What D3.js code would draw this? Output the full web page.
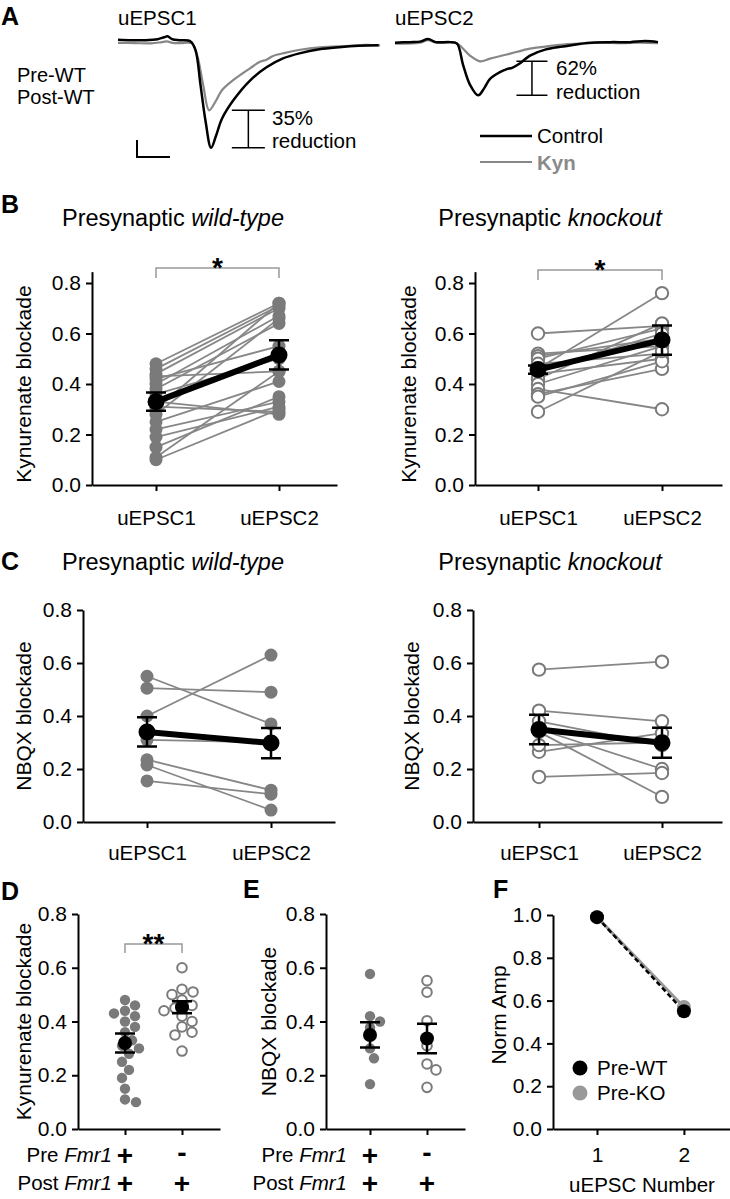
<!DOCTYPE html>
<html><head><meta charset="utf-8">
<script src="https://cdn.jsdelivr.net/npm/d3@7"></script>
<style>body{margin:0;background:#fff} svg{display:block}</style>
</head><body><svg id="fig" width="730" height="1199"></svg>
<script>
// ================= DATA =================
// Panel A: example traces (time in ms, current in pA)
const traceTimeU1Ctrl = [0, 4, 8, 12, 14, 15, 16.5, 19, 22, 23.5, 25, 26.5, 28.2, 29.7, 31.5, 35, 40, 45, 50, 55, 61, 67, 73, 79];
const traceAmpU1Ctrl  = [1.5, 1.2, 1.2, 1.8, 3.0, 3.5, 1.8, 1.2, 0.5, -4.7, -25, -46, -62, -55, -45, -34, -22.5, -14.7, -9.5, -6.5, -4.1, -2.9, -2.1, -1.8];
const traceTimeU1Kyn  = [0, 5, 10, 13, 14.8, 16.5, 19, 22.4, 24, 25.8, 27.6, 29.4, 31.5, 34.8, 40, 43, 45, 47, 50.6, 55.2, 61.2, 70.3, 75, 79.4];
const traceAmpU1Kyn   = [-0.3, -0.5, -0.6, 0, 0.5, -0.3, -0.5, -0.6, -7.6, -25, -40, -35.3, -28.2, -22.4, -15.3, -11.5, -10.2, -8.0, -6.2, -4.4, -3.0, -2.1, -1.5, -1.8];
const traceTimeU2Ctrl = [0, 4.5, 7.6, 10, 12.4, 16.7, 18.8, 20.6, 22.7, 25.2, 27, 28.8, 31.8, 33.9, 35.5, 37.9, 40.9, 45.5, 50.9, 58.2, 65.2, 71.2, 75.8, 79.7];
const traceAmpU2Ctrl  = [-0.2, 0.1, 0.4, 1.9, 0.1, 0.1, -0.8, -13.1, -24.9, -31.2, -27.1, -21.5, -17.5, -15.8, -15.0, -12.3, -7.8, -4.3, -2.5, -0.4, 0.1, 0.1, 0.7, 0.1];
const traceTimeU2Kyn  = [0, 7.6, 10, 12.4, 18.2, 19.7, 22.7, 25.8, 28.8, 33.9, 40.9, 45.5, 50.9, 56.1, 62.1, 68.2, 74.2, 79.7];
const traceAmpU2Kyn   = [-0.8, -0.2, 1.3, -0.2, -0.2, -2.0, -7.8, -11.2, -9.6, -7.2, -3.7, -2.5, -1.3, -0.8, -0.2, -0.5, -0.2, -0.5];
const traceTitles = ["uEPSC1", "uEPSC2"];
const reductionLabels = ["35%", "62%"];
const scaleBarMs = 10, scaleBarPA = 10;

// Panels B/C: paired values
const conditions = ["uEPSC1", "uEPSC2"];
const kynWTPre  = [0.48, 0.46, 0.44, 0.43, 0.42, 0.40, 0.38, 0.36, 0.33, 0.31, 0.30, 0.28, 0.25, 0.22, 0.19, 0.15, 0.11, 0.10];
const kynWTPost = [0.72, 0.71, 0.70, 0.45, 0.55, 0.67, 0.64, 0.50, 0.28, 0.29, 0.72, 0.66, 0.41, 0.33, 0.31, 0.35, 0.45, 0.30];
const kynWTMean = [0.33, 0.515], kynWTSem = [0.036, 0.058];
const kynKOPre  = [0.60, 0.52, 0.51, 0.50, 0.48, 0.46, 0.44, 0.42, 0.40, 0.38, 0.36, 0.35, 0.29, 0.45];
const kynKOPost = [0.63, 0.55, 0.58, 0.62, 0.52, 0.76, 0.50, 0.64, 0.55, 0.30, 0.46, 0.49, 0.53, 0.60];
const kynKOMean = [0.457, 0.574], kynKOSem = [0.016, 0.058];
const nbqxWTPre  = [0.40, 0.55, 0.505, 0.31, 0.235, 0.215, 0.155];
const nbqxWTPost = [0.63, 0.37, 0.49, 0.30, 0.12, 0.045, 0.105];
const nbqxWTMean = [0.34, 0.298], nbqxWTSem = [0.055, 0.057];
const nbqxKOPre  = [0.575, 0.42, 0.34, 0.35, 0.265, 0.29, 0.17, 0.38];
const nbqxKOPost = [0.605, 0.38, 0.095, 0.20, 0.335, 0.30, 0.185, 0.29];
const nbqxKOMean = [0.349, 0.299], nbqxKOSem = [0.056, 0.057];

// Panel D / E: group scatter
const preFmr1 = ["+", "-"], postFmr1 = ["+", "+"];
const dMean = [0.32, 0.453], dSem = [0.035, 0.022];
const eWT = [0.577, 0.42, 0.40, 0.378, 0.30, 0.263, 0.167];
const eKO = [0.552, 0.509, 0.403, 0.31, 0.242, 0.22, 0.155];
const eMean = [0.35, 0.337], eSem = [0.047, 0.055];

// Panel F
const fStim = [1, 2];
const fWT = [0.99, 0.55];
const fKO = [0.99, 0.57];
const fLegend = ["Pre-WT", "Pre-KO"];

const yTicks = [0, 0.2, 0.4, 0.6, 0.8];
const fYTicks = [0, 0.2, 0.4, 0.6, 0.8, 1.0];

// ================= DRAWING =================
const FONT = '"Liberation Sans", Arial, Helvetica, sans-serif';
const GRAY = "#7a7a7a", LGRAY = "#878787";
const svg = d3.select("#fig").attr("font-family", FONT);

function text(x, y, s, o = {}) {
  return svg.append("text").attr("x", x).attr("y", y).text(s)
    .attr("font-size", o.fs || 21).attr("font-weight", o.bold ? "bold" : null)
    .attr("text-anchor", o.anchor || "start").attr("fill", o.fill || "#000")
    .attr("font-style", o.italic ? "italic" : null);
}
function letter(x, y, s) { text(x, y, s, { fs: 25, bold: true }); }
function styleAxis(g, fs = 21) {
  g.attr("font-family", FONT);
  g.selectAll(".domain").attr("stroke", "#000").attr("stroke-width", 2);
  g.selectAll(".tick line").attr("stroke", "#000").attr("stroke-width", 2);
  g.selectAll(".tick text").attr("fill", "#000").attr("font-size", fs);
}
function ylabel(x, y, s) {
  svg.append("text").attr("transform", `translate(${x},${y}) rotate(-90)`)
    .attr("text-anchor", "middle").attr("font-size", 21).text(s);
}
function title(x, y, a, b) {
  const t = svg.append("text").attr("x", x).attr("y", y).attr("text-anchor", "middle").attr("font-size", 23.5);
  t.append("tspan").text(a);
  t.append("tspan").attr("font-style", "italic").text(b);
}

// ---------- Panel A ----------
letter(1, 25, "A");
const xA1 = d3.scaleLinear().domain([0, 80]).range([118, 382]);
const xA2 = d3.scaleLinear().domain([0, 80]).range([395, 659]);
const yA = d3.scaleLinear().domain([0, -70]).range([42.3, 42.3 + 119]);
function trace(xs, ts, as, col, w) {
  const line = d3.line().x((d, i) => xs(ts[i])).y(d => yA(d)).curve(d3.curveCatmullRom.alpha(0.5));
  svg.append("path").attr("d", line(as)).attr("fill", "none").attr("stroke", col)
    .attr("stroke-width", w).attr("stroke-linejoin", "round");
}
trace(xA1, traceTimeU1Kyn, traceAmpU1Kyn, LGRAY, 2.2);
trace(xA1, traceTimeU1Ctrl, traceAmpU1Ctrl, "#000", 2.5);
trace(xA2, traceTimeU2Kyn, traceAmpU2Kyn, LGRAY, 2.2);
trace(xA2, traceTimeU2Ctrl, traceAmpU2Ctrl, "#000", 2.5);
text(118, 25, traceTitles[0], { fs: 20.5 });
text(395, 25, traceTitles[1], { fs: 20.5 });
text(17, 82, "Pre-WT", { fs: 20 });
text(17, 104, "Post-WT", { fs: 20 });
// scale bar
{
  const cx = 137, cy = 157;
  const w = xA1(scaleBarMs) - xA1(0), h = yA(-scaleBarPA) - yA(0);
  svg.append("path").attr("d", `M${cx},${cy - h}V${cy}H${cx + w}`).attr("fill", "none")
    .attr("stroke", "#000").attr("stroke-width", 2);
}
function reduction(xs, tC, ctrl, kyn, hw, label, tx, ty1, ty2) {
  const x = xs(tC), top = yA(d3.min(kyn)), bot = yA(d3.min(ctrl));
  svg.append("path").attr("d", `M${x - hw},${top}H${x + hw}M${x},${top}V${bot}M${x - hw},${bot}H${x + hw}`)
    .attr("stroke", "#000").attr("stroke-width", 1.5).attr("fill", "none");
  text(tx, ty1, label, { fs: 20.5 });
  text(tx, ty2, "reduction", { fs: 20.5 });
}
reduction(xA1, 39.5, traceAmpU1Ctrl, traceAmpU1Kyn, 16.5, reductionLabels[0], 272, 125, 148);
reduction(xA2, 41.5, traceAmpU2Ctrl, traceAmpU2Kyn, 15.5, reductionLabels[1], 556, 75, 99);
// legend
svg.append("line").attr("x1", 480).attr("x2", 532).attr("y1", 136).attr("y2", 136).attr("stroke", "#000").attr("stroke-width", 2.5);
text(537, 143, "Control", { fs: 20.5 });
svg.append("line").attr("x1", 480).attr("x2", 532).attr("y1", 162).attr("y2", 162).attr("stroke", LGRAY).attr("stroke-width", 2.2);
text(537, 170, "Kyn", { fs: 20.5, bold: true, fill: "#8a8a8a" });

// ---------- Paired panels (B, C) ----------
function paired(c) {
  const d = c.t2 - c.t1;
  const x = d3.scaleLinear().domain([-(c.t1 - c.ax) / d, 1 + (c.end - c.t2) / d]).range([c.ax, c.end]);
  const y = d3.scaleLinear().domain([0, 0.8]).range([c.y0, c.y8]);
  const yAx = y.copy().domain([0, c.ymax]).range([c.y0, y(c.ymax)]);
  const gy = svg.append("g").attr("transform", `translate(${c.ax},0)`)
    .call(d3.axisLeft(yAx).tickValues(yTicks).tickFormat(d3.format(".1f")).tickSize(6).tickPadding(5).tickSizeOuter(0));
  styleAxis(gy);
  const gx = svg.append("g").attr("transform", `translate(0,${c.y0})`)
    .call(d3.axisBottom(x).tickValues([0, 1]).tickFormat(i => conditions[i]).tickSize(6).tickPadding(c.xpad).tickSizeOuter(0));
  styleAxis(gx, 20.5);
  const g = svg.append("g");
  c.pre.forEach((v, i) => {
    g.append("line").attr("x1", x(0)).attr("y1", y(v)).attr("x2", x(1)).attr("y2", y(c.post[i]))
      .attr("stroke", LGRAY).attr("stroke-width", 1.8);
  });
  [c.pre, c.post].forEach((arr, j) => arr.forEach(v => {
    g.append("circle").attr("cx", x(j)).attr("cy", y(v)).attr("r", c.open ? 6.2 : 6.5)
      .attr("fill", c.open ? "#fff" : GRAY).attr("stroke", GRAY).attr("stroke-width", c.open ? 2 : 0);
  }));
  g.append("line").attr("x1", x(0)).attr("y1", y(c.mean[0])).attr("x2", x(1)).attr("y2", y(c.mean[1]))
    .attr("stroke", "#000").attr("stroke-width", 6);
  c.mean.forEach((m, j) => {
    const cx = x(j), t = y(m + c.sem[j]), b = y(m - c.sem[j]);
    g.append("path").attr("d", `M${cx - 10},${t}H${cx + 10}M${cx},${t}V${b}M${cx - 10},${b}H${cx + 10}`)
      .attr("stroke", "#000").attr("stroke-width", 2.5).attr("fill", "none");
    g.append("circle").attr("cx", cx).attr("cy", y(m)).attr("r", 8.5).attr("fill", "#000");
  });
  title(c.titleX, c.titleY, "Presynaptic ", c.title);
  ylabel(c.ylx, (c.y0 + c.y8) / 2, c.ylabel);
  if (c.bracket) {
    const by = c.bracket;
    g.append("path").attr("d", `M${x(0)},${by + 10}V${by}H${x(1)}V${by + 10}`)
      .attr("fill", "none").attr("stroke", "#999").attr("stroke-width", 1.5);
    text((x(0) + x(1)) / 2, by + 9, "*", { fs: 28, bold: true, anchor: "middle" });
  }
}
letter(1, 213, "B");
paired({ ax: 92, t1: 156, t2: 279, end: 337, y0: 485, y8: 283, ymax: 0.845, pre: kynWTPre, post: kynWTPost,
  mean: kynWTMean, sem: kynWTSem, open: false, title: "wild-type", titleX: 173, titleY: 226,
  ylabel: "Kynurenate blockade", ylx: 31, xpad: 19, bracket: 268 });
paired({ ax: 475, t1: 538, t2: 662, end: 722, y0: 485, y8: 283, ymax: 0.845, pre: kynKOPre, post: kynKOPost,
  mean: kynKOMean, sem: kynKOSem, open: true, title: "knockout", titleX: 550, titleY: 226,
  ylabel: "Kynurenate blockade", ylx: 416, xpad: 19, bracket: 270 });
letter(1, 570, "C");
paired({ ax: 83, t1: 147, t2: 271, end: 335, y0: 822, y8: 610, ymax: 0.8, pre: nbqxWTPre, post: nbqxWTPost,
  mean: nbqxWTMean, sem: nbqxWTSem, open: false, title: "wild-type", titleX: 173, titleY: 570,
  ylabel: "NBQX blockade", ylx: 31, xpad: 17 });
paired({ ax: 473, t1: 539, t2: 662, end: 722, y0: 822, y8: 610, ymax: 0.8, pre: nbqxKOPre, post: nbqxKOPost,
  mean: nbqxKOMean, sem: nbqxKOSem, open: true, title: "knockout", titleX: 550, titleY: 570,
  ylabel: "NBQX blockade", ylx: 419, xpad: 17 });

// ---------- Group scatter panels (D, E) ----------
function swarm(vals, y, r) {
  const placed = [];
  const order = vals.map((v, i) => i).sort((a, b) => vals[b] - vals[a]);
  const off = new Array(vals.length).fill(0);
  order.forEach(i => {
    const py = y(vals[i]);
    for (let k = 0; k < 200; k++) {
      const dx = (k % 2 ? 1 : -1) * Math.ceil(k / 2);
      if (placed.every(p => Math.hypot(p[0] - dx, p[1] - py) >= 2 * r + 0.5)) { off[i] = dx; placed.push([dx, py]); break; }
    }
  });
  return off;
}
function groups(c) {
  const d = c.t2 - c.t1;
  const x = d3.scaleLinear().domain([-(c.t1 - c.ax) / d, 1 + (c.end - c.t2) / d]).range([c.ax, c.end]);
  const y = d3.scaleLinear().domain([0, 0.8]).range([c.y0, c.y8]);
  styleAxis(svg.append("g").attr("transform", `translate(${c.ax},0)`)
    .call(d3.axisLeft(y).tickValues(yTicks).tickFormat(d3.format(".1f")).tickSize(6).tickPadding(5).tickSizeOuter(0)));
  styleAxis(svg.append("g").attr("transform", `translate(0,${c.y0})`)
    .call(d3.axisBottom(x).tickValues([0, 1]).tickFormat("").tickSize(6).tickSizeOuter(0)));
  const g = svg.append("g");
  c.vals.forEach((arr, j) => {
    const off = swarm(arr, y, 5);
    arr.forEach((v, i) => g.append("circle").attr("cx", x(j) + off[i]).attr("cy", y(v)).attr("r", c.open[j] ? 4.8 : 5.2)
      .attr("fill", c.open[j] ? "#fff" : GRAY).attr("stroke", GRAY).attr("stroke-width", c.open[j] ? 2 : 0));
  });
  c.mean.forEach((m, j) => {
    const cx = x(j), t = y(m + c.sem[j]), b = y(m - c.sem[j]);
    g.append("path").attr("d", `M${cx - 10},${t}H${cx + 10}M${cx},${t}V${b}M${cx - 10},${b}H${cx + 10}`)
      .attr("stroke", "#000").attr("stroke-width", 2.5).attr("fill", "none");
    g.append("circle").attr("cx", cx).attr("cy", y(m)).attr("r", 7).attr("fill", "#000");
  });
  ylabel(c.ylx, (c.y0 + c.y8) / 2, c.ylabel);
  [[preFmr1, "Pre ", 1162, 1165], [postFmr1, "Post ", 1190, 1193]].forEach(([marks, lab, by, my]) => {
    const t = svg.append("text").attr("x", c.labR).attr("y", by).attr("text-anchor", "end").attr("font-size", 20.5);
    t.append("tspan").text(lab);
    t.append("tspan").attr("font-style", "italic").text("Fmr1");
    marks.forEach((m, j) => text(x(j), m === "+" ? my : by, m, { fs: 28, bold: true, anchor: "middle" }));
  });
  if (c.bracket) {
    const by = c.bracket;
    g.append("path").attr("d", `M${x(0)},${by + 9}V${by}H${x(1)}V${by + 9}`)
      .attr("fill", "none").attr("stroke", "#999").attr("stroke-width", 1.5);
    text((x(0) + x(1)) / 2, by + 9, "**", { fs: 28, bold: true, anchor: "middle" });
  }
}
letter(1, 900, "D");
groups({ ax: 78, t1: 125, t2: 182, end: 220, y0: 1129, y8: 914, vals: [kynWTPre, kynKOPre], open: [false, true],
  mean: dMean, sem: dSem, ylabel: "Kynurenate blockade", ylx: 31, labR: 112, bracket: 944 });
letter(243, 898, "E");
groups({ ax: 326, t1: 370, t2: 427, end: 465, y0: 1129, y8: 914, vals: [eWT, eKO], open: [false, true],
  mean: eMean, sem: eSem, ylabel: "NBQX blockade", ylx: 276, labR: 347 });

// ---------- Panel F ----------
letter(493, 898, "F");
{
  const x = d3.scaleLinear().domain([0.494, 2.53]).range([553, 730]);
  const y = d3.scaleLinear().domain([0, 1]).range([1129, 915]);
  styleAxis(svg.append("g").attr("transform", "translate(553,0)")
    .call(d3.axisLeft(y).tickValues(fYTicks).tickFormat(d3.format(".1f")).tickSize(6).tickPadding(5).tickSizeOuter(0)));
  styleAxis(svg.append("g").attr("transform", "translate(0,1129)")
    .call(d3.axisBottom(x).tickValues(fStim).tickFormat(d3.format("d")).tickSize(6).tickPadding(12).tickSizeOuter(0)));
  const line = d3.line().x((d, i) => x(fStim[i])).y(d => y(d));
  svg.append("path").attr("d", line(fKO)).attr("stroke", "#999").attr("stroke-width", 3).attr("fill", "none");
  svg.append("path").attr("d", line(fWT)).attr("stroke", "#000").attr("stroke-width", 2.5).attr("stroke-dasharray", "5,3").attr("fill", "none");
  fKO.forEach((v, i) => svg.append("circle").attr("cx", x(fStim[i])).attr("cy", y(v)).attr("r", 7).attr("fill", "#999"));
  fWT.forEach((v, i) => svg.append("circle").attr("cx", x(fStim[i])).attr("cy", y(v)).attr("r", 7).attr("fill", "#000"));
  ylabel(506, 1015, "Norm Amp");
  text(642, 1192, "uEPSC Number", { fs: 20.5, anchor: "middle" });
  [["#000", 1068], ["#999", 1093]].forEach(([col, cy], k) => {
    svg.append("circle").attr("cx", 580).attr("cy", cy).attr("r", 7.5).attr("fill", col);
    text(597, cy + 7, fLegend[k], { fs: 20.5 });
  });
}
</script></body></html>
